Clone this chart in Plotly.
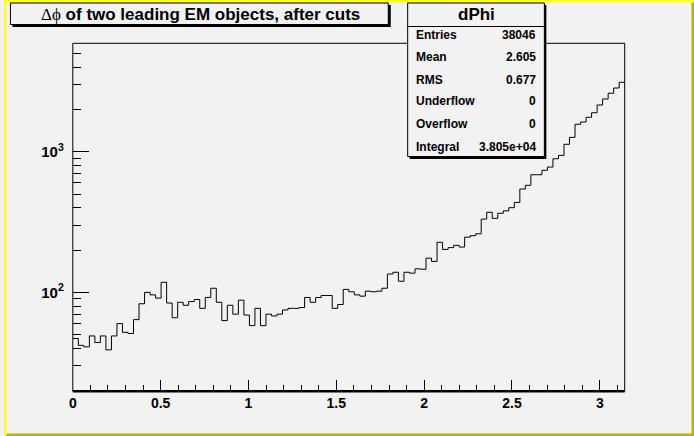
import numpy as np
import plotly.graph_objects as go

# ---- data ----
n_bins = 100
x_min, x_max = 0.0, np.pi
counts = [47, 42, 41, 49, 44, 49, 39, 49, 60, 52,
          51, 64, 83, 100, 96, 91, 118, 84, 66, 85,
          81, 86, 89, 77, 92, 107, 85, 63, 81, 70,
          88, 69, 58, 77, 58, 70, 68, 70, 75, 77,
          77, 78, 92, 85, 92, 95, 95, 77, 82, 105,
          101, 96, 94, 102, 101, 102, 107, 135, 139, 120,
          139, 137, 147, 146, 175, 166, 227, 202, 208, 216,
          210, 247, 253, 261, 332, 371, 336, 365, 380, 400,
          436, 543, 577, 686, 686, 738, 778, 891, 942, 1129,
          1265, 1567, 1626, 1757, 1893, 2148, 2370, 2603, 2837, 3116]
x_tick_vals = [0, 0.5, 1, 1.5, 2, 2.5, 3]
y_tick_vals = [100, 1000]
y_tick_text = ["10<sup>2</sup>", "10<sup>3</sup>"]
y_minor_vals = [20, 30, 40, 50, 60, 70, 80, 90,
                200, 300, 400, 500, 600, 700, 800, 900,
                2000, 3000, 4000, 5000]
y_range = [19.8, 5900]

title_text = ('<span style="font-weight:normal;font-family:Liberation Serif">\u0394\u03d5</span>'
              ' of two leading EM objects, after cuts')
stats_name = "dPhi"
stats_labels = ["Entries", "Mean", "RMS", "Underflow", "Overflow", "Integral"]
stats_values = ["38046", "2.605", "0.677", "0", "0", "3.805e+04"]

# ---- layout helpers (pixel -> paper) ----
W, H = 694, 436
def px(x): return x / W
def py(y): return 1 - y / H

edges = np.linspace(x_min, x_max, n_bins + 1)
yy = list(counts) + [counts[-1]]

BG = "#f2f2f2"
FONT = "Liberation Sans"

fig = go.Figure()
fig.add_trace(go.Scatter(x=edges, y=yy, mode="lines", line_shape="hv",
                         line=dict(color="black", width=1), hoverinfo="skip",
                         showlegend=False))

L, R, T, B = 69.2, 624.3, 43.3, 391.3

fig.update_layout(
    width=W, height=H, margin=dict(l=0, r=0, t=0, b=0),
    paper_bgcolor=BG, plot_bgcolor=BG, showlegend=False,
    font=dict(family=FONT, color="black"),
    xaxis=dict(domain=[px(L), px(R)], range=[x_min, x_max], showgrid=False,
               zeroline=False, showline=False, ticks="inside", ticklen=11,
               tickwidth=1, tickcolor="black", tickmode="array", tickvals=x_tick_vals,
               tickfont=dict(family=FONT, size=14, weight="bold", color="black"),
               ticklabelstandoff=2,
               minor=dict(dtick=0.1, tick0=0, ticks="inside", ticklen=6,
                          tickcolor="black", tickwidth=1, showgrid=False)),
    yaxis=dict(domain=[py(B), py(T)], type="log",
               range=[np.log10(y_range[0]), np.log10(y_range[1])],
               showgrid=False, zeroline=False, showline=False, ticks="inside",
               ticklen=16, tickwidth=1, tickcolor="black", tickmode="array",
               tickvals=y_tick_vals, ticktext=y_tick_text,
               tickfont=dict(family=FONT, size=15, weight="bold", color="black"),
               ticklabelstandoff=8,
               minor=dict(tickmode="array", tickvals=y_minor_vals, ticks="inside",
                          ticklen=8, tickcolor="black", tickwidth=1, showgrid=False)),
)

shapes = []
# canvas bevel border
shapes.append(dict(type="rect", xref="paper", yref="paper", x0=0, x1=px(2.5), y0=0, y1=1,
                   fillcolor="#ffff22", line=dict(width=0), layer="above"))
shapes.append(dict(type="rect", xref="paper", yref="paper", x0=0, x1=1, y0=py(2.5), y1=1,
                   fillcolor="#ffff22", line=dict(width=0), layer="above"))
shapes.append(dict(type="rect", xref="paper", yref="paper", x0=px(W - 2.5), x1=1, y0=0, y1=py(2.5),
                   fillcolor="#b5b500", line=dict(width=0), layer="above"))
shapes.append(dict(type="rect", xref="paper", yref="paper", x0=px(2.5), x1=1, y0=0, y1=py(H - 2.5),
                   fillcolor="#b5b500", line=dict(width=0), layer="above"))
# frame
shapes.append(dict(type="rect", xref="paper", yref="paper", x0=px(L), x1=px(R), y0=py(B), y1=py(T),
                   line=dict(color="black", width=1), layer="above"))
shapes.append(dict(type="line", xref="paper", yref="paper", x0=px(L), x1=px(R), y0=py(B), y1=py(B),
                   line=dict(color="black", width=2.5), layer="above"))
# title box with shadow
shapes.append(dict(type="rect", xref="paper", yref="paper", x0=px(8.5), x1=px(389), y0=py(27), y1=py(5),
                   fillcolor="black", line=dict(width=0), layer="above"))
shapes.append(dict(type="rect", xref="paper", yref="paper", x0=px(6.5), x1=px(386.5), y0=py(24.5), y1=py(3),
                   fillcolor=BG, line=dict(color="black", width=1), layer="above"))
# stats box with shadow
shapes.append(dict(type="rect", xref="paper", yref="paper", x0=px(408), x1=px(545.5), y0=py(159), y1=py(5),
                   fillcolor="black", line=dict(width=0), layer="above"))
shapes.append(dict(type="rect", xref="paper", yref="paper", x0=px(406), x1=px(543.5), y0=py(156.5), y1=py(3),
                   fillcolor=BG, line=dict(color="black", width=1), layer="above"))
shapes.append(dict(type="line", xref="paper", yref="paper", x0=px(406), x1=px(543.5), y0=py(26.5), y1=py(26.5),
                   line=dict(color="black", width=1), layer="above"))
fig.update_layout(shapes=shapes)

ann = []
ann.append(dict(text=title_text, x=px(198), y=py(14), xref="paper", yref="paper",
                showarrow=False, xanchor="center", yanchor="middle",
                font=dict(family=FONT, size=17, weight="bold", color="black")))
ann.append(dict(text=stats_name, x=px(475), y=py(14), xref="paper", yref="paper",
                showarrow=False, xanchor="center", yanchor="middle",
                font=dict(family=FONT, size=17, weight="bold", color="black")))
row_y = [34.5, 57, 79.5, 101.5, 124, 147]
for lab, val, ry in zip(stats_labels, stats_values, row_y):
    ann.append(dict(text=lab, x=px(412), y=py(ry), xref="paper", yref="paper",
                    showarrow=False, xanchor="left", yanchor="middle",
                    font=dict(family=FONT, size=12, weight="bold", color="black")))
    ann.append(dict(text=val, x=px(537), y=py(ry), xref="paper", yref="paper",
                    showarrow=False, xanchor="right", yanchor="middle",
                    font=dict(family=FONT, size=12, weight="bold", color="black")))
fig.update_layout(annotations=ann)

fig.write_html("out.html", config={"displayModeBar": False},
               post_script="document.body.style.margin='0px';document.body.style.overflow='hidden';")
